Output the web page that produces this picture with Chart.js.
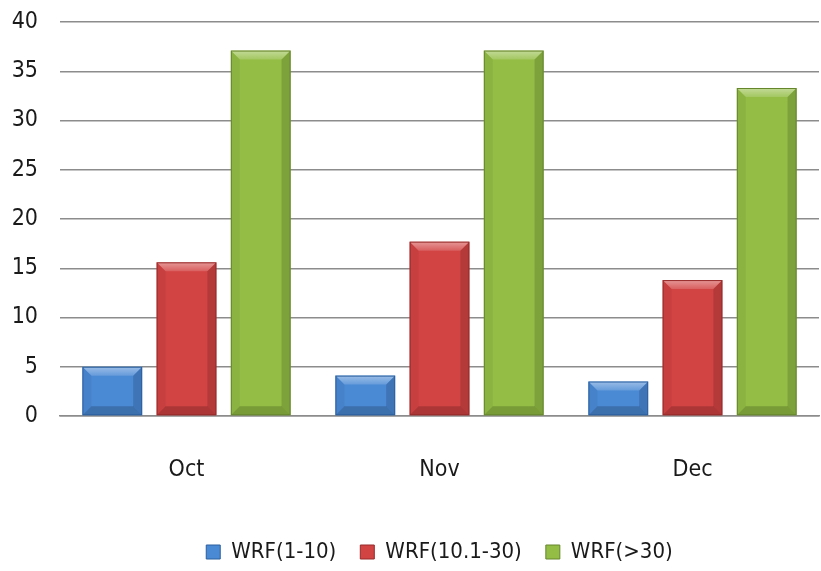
<!DOCTYPE html>
<html>
<head>
<meta charset="utf-8">
<script src="https://cdn.jsdelivr.net/npm/chart.js@4"></script>
<style>
  html, body { margin: 0; padding: 0; background: #fff; }
  #wrap { width: 821px; height: 571px; }
</style>
</head>
<body>
<div id="wrap"><canvas id="wrfChart"></canvas></div>
<script>
const months = ['Oct', 'Nov', 'Dec'];
const seriesNames = ['WRF(1-10)', 'WRF(10.1-30)', 'WRF(>30)'];
const wrfLow = [5.0, 4.1, 3.5];
const wrfMid = [15.6, 17.7, 13.8];
const wrfHigh = [37.1, 37.1, 33.3];

const FONT = "'Liberation Sans Narrow', 'DejaVu Sans Condensed', 'Open Sans', sans-serif";

const palette = [
    { fill: '#4a89d4', edge: '#2b5f9e' },
    { fill: '#d24343', edge: '#962b2b' },
    { fill: '#93bd45', edge: '#66862c' }
];

// bevelled look on top of each bar: light top edge, shaded sides and bottom
const bevelPlugin = {
    id: 'bevel',
    afterDatasetsDraw(chart) {
        const ctx = chart.ctx;
        chart.data.datasets.forEach((ds, i) => {
            const meta = chart.getDatasetMeta(i);
            meta.data.forEach(bar => {
                const { x, y, base, width } = bar.getProps(['x', 'y', 'base', 'width'], true);
                const l = x - width / 2, r = x + width / 2, t = y, b = base;
                const s = Math.min(9, (b - t) / 2);
                const poly = (pts, color) => {
                    ctx.beginPath();
                    ctx.moveTo(pts[0][0], pts[0][1]);
                    pts.slice(1).forEach(p => ctx.lineTo(p[0], p[1]));
                    ctx.closePath();
                    ctx.fillStyle = color;
                    ctx.fill();
                };
                ctx.save();
                const topGrad = ctx.createLinearGradient(0, t, 0, t + s);
                topGrad.addColorStop(0, 'rgba(255,255,255,0.45)');
                topGrad.addColorStop(1, 'rgba(255,255,255,0.15)');
                poly([[l, t], [r, t], [r - s, t + s], [l + s, t + s]], topGrad);
                poly([[l, t], [l + s, t + s], [l + s, b - s], [l, b]], 'rgba(0,0,0,0.05)');
                poly([[r, t], [r, b], [r - s, b - s], [r - s, t + s]], 'rgba(0,0,0,0.14)');
                poly([[l, b], [r, b], [r - s, b - s], [l + s, b - s]], 'rgba(0,0,0,0.18)');
                ctx.strokeStyle = palette[i].edge;
                ctx.lineWidth = 1;
                ctx.strokeRect(l + 0.5, t + 0.5, width - 1, b - t - 1);
                ctx.restore();
            });
        });
    }
};

function makeDataset(label, data, i) {
    return {
        label,
        data,
        backgroundColor: palette[i].fill,
        borderColor: palette[i].edge,
        borderWidth: 0,
        categoryPercentage: 0.88,
        barPercentage: 0.805
    };
}

new Chart(document.getElementById('wrfChart'), {
    type: 'bar',
    data: {
        labels: months,
        datasets: [
            makeDataset(seriesNames[0], wrfLow, 0),
            makeDataset(seriesNames[1], wrfMid, 1),
            makeDataset(seriesNames[2], wrfHigh, 2)
        ]
    },
    options: {
        responsive: true,
        maintainAspectRatio: false,
        animation: false,
        layout: { padding: { top: 22, right: 2, bottom: -2, left: 0 } },
        scales: {
            x: {
                grid: { display: false, drawTicks: false },
                border: { display: true, color: '#8c8c8c', width: 1.5 },
                ticks: { color: '#1a1a1a', font: { family: FONT, size: 23 }, padding: 40 },
                afterFit(scale) { scale.height = 101; }
            },
            y: {
                min: 0,
                max: 40,
                // invisible tick marks keep the labels clear of the grid
                grid: { color: '#8c8c8c', lineWidth: 1.5, drawTicks: true, tickLength: 22, tickColor: 'rgba(0,0,0,0)' },
                border: { display: false },
                ticks: { stepSize: 5, color: '#1a1a1a', font: { family: FONT, size: 23 }, padding: 0 },
                afterFit(scale) { scale.width = 60; }
            }
        },
        plugins: {
            legend: {
                position: 'bottom',
                fullSize: false,
                labels: {
                    color: '#1a1a1a',
                    font: { family: FONT, size: 22 },
                    boxWidth: 14,
                    boxHeight: 14,
                    padding: 24,
                    generateLabels(chart) {
                        return chart.data.datasets.map((ds, i) => ({
                            text: ds.label,
                            fillStyle: palette[i].fill,
                            strokeStyle: palette[i].edge,
                            lineWidth: 1,
                            fontColor: '#1a1a1a',
                            datasetIndex: i
                        }));
                    }
                }
            },
            tooltip: { enabled: false }
        }
    },
    plugins: [bevelPlugin]
});
</script>
</body>
</html>
